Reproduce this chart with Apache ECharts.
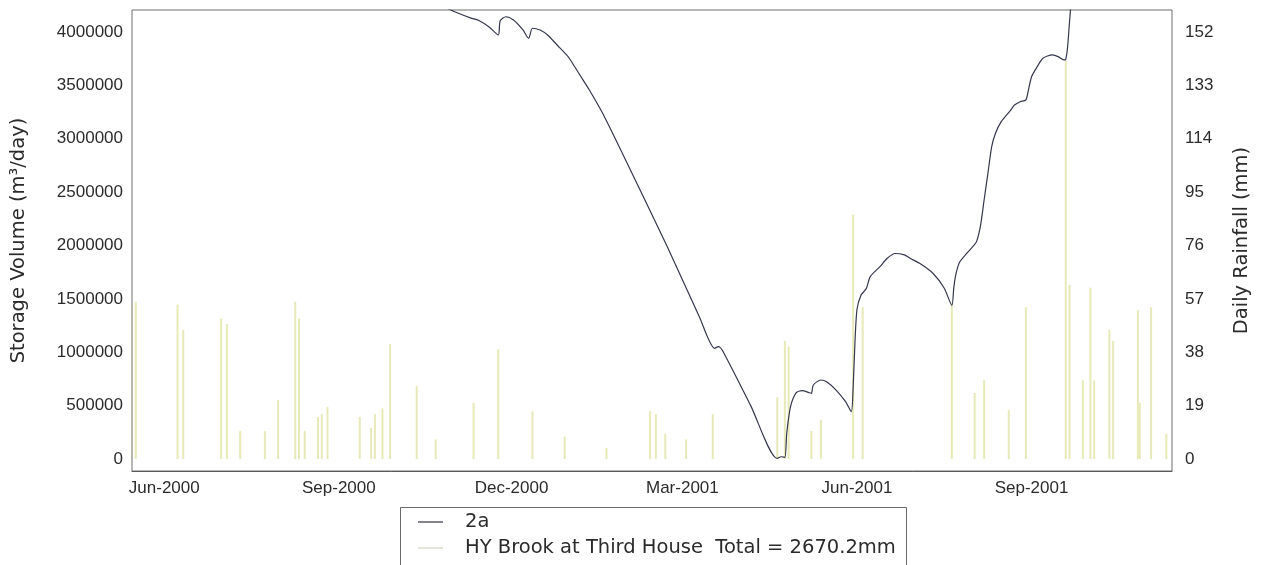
<!DOCTYPE html>
<html>
<head>
<meta charset="utf-8">
<title>Storage volume and daily rainfall</title>
<script src="https://cdn.jsdelivr.net/npm/echarts@6/dist/echarts.min.js"></script>
<style>
  html, body { margin: 0; padding: 0; background: #ffffff; }
  #chart { width: 1261px; height: 565px; }
</style>
</head>
<body>
<div id="chart"></div>
<script>
// Storage volume of reservoir 2a (m3/day), sampled at the turning points of the trace
const storageDates = [
  '2000-05-15', '2000-07-15', '2000-09-15', '2000-10-20', '2000-11-01',
  '2000-11-10', '2000-11-14', '2000-11-19', '2000-11-24', '2000-11-25',
  '2000-11-28', '2000-12-02', '2000-12-07', '2000-12-10', '2000-12-12',
  '2000-12-16', '2000-12-20', '2000-12-25', '2000-12-30', '2001-01-01',
  '2001-01-06', '2001-01-11', '2001-01-18', '2001-02-01', '2001-02-21',
  '2001-03-10', '2001-03-18', '2001-03-20', '2001-03-22', '2001-04-06',
  '2001-04-20', '2001-04-22', '2001-04-24', '2001-04-25', '2001-04-27',
  '2001-04-30', '2001-05-03', '2001-05-07', '2001-05-08', '2001-05-09',
  '2001-05-13', '2001-05-16', '2001-05-21', '2001-05-26', '2001-05-29',
  '2001-05-30', '2001-05-31', '2001-06-01', '2001-06-03', '2001-06-06',
  '2001-06-08', '2001-06-13', '2001-06-17', '2001-06-21', '2001-06-26',
  '2001-06-29', '2001-07-04', '2001-07-11', '2001-07-17', '2001-07-21',
  '2001-07-22', '2001-07-23', '2001-07-25', '2001-07-29', '2001-08-01',
  '2001-08-03', '2001-08-05', '2001-08-07', '2001-08-09', '2001-08-11',
  '2001-08-13', '2001-08-16', '2001-08-21', '2001-08-23', '2001-08-26',
  '2001-08-29', '2001-08-30', '2001-09-01', '2001-09-04', '2001-09-07',
  '2001-09-12', '2001-09-15', '2001-09-18', '2001-09-19', '2001-09-20',
  '2001-09-22', '2001-09-25', '2001-10-15', '2001-11-14'
];
const storageVolume = [
  4520000, 4470000, 4380000, 4280000, 4190000,
  4128000, 4106000, 4050000, 3972000, 4105000,
  4143000, 4112000, 4019000, 3941000, 4035000,
  4019000, 3972000, 3878000, 3785000, 3738000,
  3597000, 3457000, 3238000, 2730000, 1990000,
  1330000, 1037000, 1052000, 1021000, 500000,
  5000, 21000, 16000, 241000, 490000,
  621000, 640000, 621000, 615000, 693000,
  740000, 724000, 646000, 537000, 443000,
  677000, 1115000, 1400000, 1530000, 1600000,
  1708000, 1800000, 1880000, 1925000, 1912000,
  1880000, 1833000, 1740000, 1600000, 1440000,
  1600000, 1720000, 1840000, 1930000, 1989000,
  2036000, 2176000, 2426000, 2676000, 2926000,
  3051000, 3160000, 3269000, 3316000, 3347000,
  3363000, 3426000, 3581000, 3675000, 3754000,
  3785000, 3769000, 3738000, 3745000, 3862000,
  4300000, 4600000, 4850000, 5050000
];

// Daily rainfall at HY Brook at Third House (mm)
const rainDates = [
  '2000-05-17', '2000-06-08', '2000-06-11', '2000-07-01', '2000-07-04',
  '2000-07-11', '2000-07-24', '2000-07-31', '2000-08-09', '2000-08-11',
  '2000-08-14', '2000-08-21', '2000-08-23', '2000-08-26', '2000-09-12',
  '2000-09-18', '2000-09-20', '2000-09-24', '2000-09-28', '2000-10-12',
  '2000-10-22', '2000-11-11', '2000-11-24', '2000-12-12', '2000-12-29',
  '2001-01-20', '2001-02-12', '2001-02-15', '2001-02-20', '2001-03-03',
  '2001-03-17', '2001-04-20', '2001-04-24', '2001-04-26', '2001-05-08',
  '2001-05-13', '2001-05-30', '2001-06-04', '2001-07-21', '2001-08-02',
  '2001-08-07', '2001-08-20', '2001-08-29', '2001-09-19', '2001-09-21',
  '2001-09-28', '2001-10-02', '2001-10-04', '2001-10-12', '2001-10-14',
  '2001-10-27', '2001-10-28', '2001-11-03', '2001-11-11'
];
const rainMm = [
  56, 55, 46, 50, 48,
  10, 10, 21, 56, 50,
  10, 15, 16, 18.5, 15,
  11, 16, 18, 41, 26,
  7, 20, 39, 17, 8,
  4, 17, 16, 9, 7,
  16, 22, 42, 40, 10,
  14, 87, 54, 55.5, 23.5,
  28, 17.4, 54, 142, 62,
  28, 61, 28, 46, 42,
  53, 20, 54, 9
];

// Axis tick labels
const dateTicks = ['2000-06-01', '2000-09-01', '2000-12-01', '2001-03-01', '2001-06-01', '2001-09-01'];
const storageTicks = [0, 500000, 1000000, 1500000, 2000000, 2500000, 3000000, 3500000, 4000000];
const rainTicks = [0, 19, 38, 57, 76, 95, 114, 133, 152];

const lineName = '2a';
const rainName = 'HY Brook at Third House  Total = 2670.2mm';
const monthNames = ['Jan', 'Feb', 'Mar', 'Apr', 'May', 'Jun', 'Jul', 'Aug', 'Sep', 'Oct', 'Nov', 'Dec'];

const FONT = '"Liberation Sans", Arial, sans-serif';
const WIDE_FONT = '"DejaVu Sans", Verdana, sans-serif';
const TEXT = '#2b2b2b';

// Dates are placed on a numeric axis as UTC milliseconds
function dayMs(s) {
  const p = s.split('-').map(Number);
  return Date.UTC(p[0], p[1] - 1, p[2]);
}

// Both value axes share one scale: 152 mm sits level with 4,000,000 m3/day
const storageMin = -112400, storageMax = 4206000;
const mmPerUnit = 152 / 4000000;

const chart = echarts.init(document.getElementById('chart'), null, { renderer: 'canvas' });

chart.setOption({
  backgroundColor: '#ffffff',
  animation: false,
  grid: {
    left: 132, right: 89, top: 10, bottom: 94,
    show: true, borderColor: '#6f6f6f', borderWidth: 1, backgroundColor: 'transparent'
  },
  // frame around the legend, running off the bottom edge
  graphic: [{
    type: 'rect',
    shape: { x: 400.5, y: 507.5, width: 506, height: 80 },
    style: { fill: 'none', stroke: '#6a6a6a', lineWidth: 1 },
    silent: true
  }],
  legend: {
    orient: 'vertical',
    left: 418, top: 511,
    itemWidth: 25, itemHeight: 1.2, itemGap: 4,
    padding: 0,
    textStyle: { fontFamily: WIDE_FONT, fontSize: 19.5, color: TEXT, lineHeight: 22, padding: [0, 0, 0, 17] },
    data: [
      { name: lineName, icon: 'rect', itemStyle: { color: '#2e3040' } },
      { name: rainName, icon: 'rect', itemStyle: { color: '#d4d4c0' } }
    ]
  },
  xAxis: {
    type: 'value',
    min: dayMs('2000-05-15'),
    max: dayMs('2001-11-14'),
    axisLine: { show: true, onZero: false, lineStyle: { color: '#5a5a5a', width: 1 } },
    axisTick: { show: false },
    splitLine: { show: false },
    axisLabel: {
      customValues: dateTicks.map(dayMs),
      margin: 9,
      fontFamily: FONT, fontSize: 17, color: TEXT,
      formatter: function (v) {
        const d = new Date(v);
        return monthNames[d.getUTCMonth()] + '-' + d.getUTCFullYear();
      }
    }
  },
  yAxis: [
    {
      type: 'value',
      min: storageMin, max: storageMax,
      name: 'Storage Volume (m\u00B3/day)',
      nameLocation: 'middle', nameRotate: 90, nameGap: 103,
      nameTextStyle: { fontFamily: WIDE_FONT, fontSize: 19.5, color: TEXT },
      axisLine: { show: false },
      axisTick: { show: false },
      splitLine: { show: false },
      axisLabel: {
        customValues: storageTicks,
        margin: 9,
        fontFamily: FONT, fontSize: 17, color: TEXT,
        formatter: v => String(Math.round(v))
      }
    },
    {
      type: 'value',
      position: 'right',
      min: storageMin * mmPerUnit, max: storageMax * mmPerUnit,
      name: 'Daily Rainfall (mm)',
      nameLocation: 'middle', nameRotate: 90, nameGap: 60,
      nameTextStyle: { fontFamily: WIDE_FONT, fontSize: 19.5, color: TEXT },
      axisLine: { show: false },
      axisTick: { show: false },
      splitLine: { show: false },
      axisLabel: {
        customValues: rainTicks,
        margin: 13,
        fontFamily: FONT, fontSize: 17, color: TEXT,
        formatter: v => String(Math.round(v))
      }
    }
  ],
  series: [
    {
      name: rainName,
      type: 'bar',
      yAxisIndex: 1,
      barWidth: 2,
      itemStyle: { color: '#e7e9b8' },
      data: rainDates.map((d, i) => [dayMs(d), rainMm[i]]),
      z: 1
    },
    {
      name: lineName,
      type: 'line',
      yAxisIndex: 0,
      showSymbol: false,
      symbol: 'none',
      smooth: 0.25,
      clip: true,
      lineStyle: { color: '#34374d', width: 1.2 },
      data: storageDates.map((d, i) => [dayMs(d), storageVolume[i]]),
      z: 3
    }
  ]
});
</script>
</body>
</html>
